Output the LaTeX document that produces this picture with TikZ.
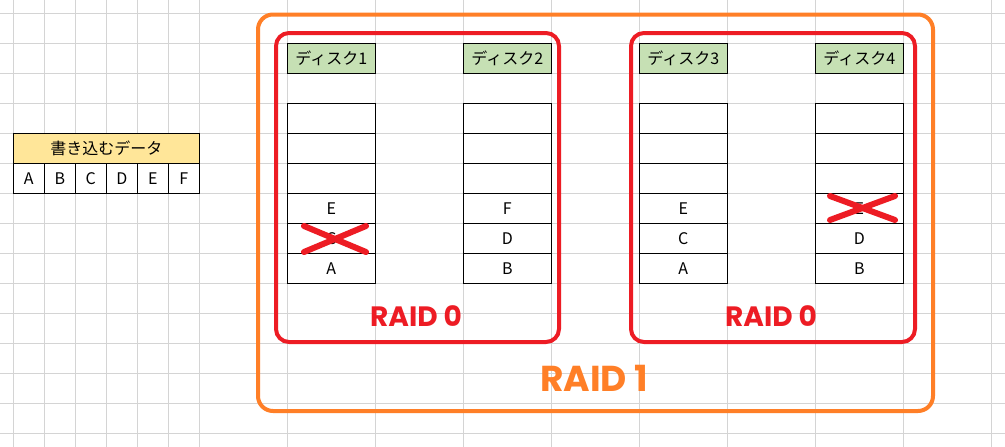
\documentclass[tikz,border=0pt]{standalone}
\usepackage{fontspec}
\setmainfont{Noto Sans CJK JP}
\newfontfamily\raidfont{Poppins}[UprightFont=* Bold]
\begin{document}
\begin{tikzpicture}[x=1pt,y=-1pt,
  txt/.style={font=\fontsize{16}{16}\selectfont},
  cell/.style={txt,draw=black,line width=0.8pt,minimum width=88pt,minimum height=30pt,inner sep=0pt},
  small/.style={txt,draw=black,line width=0.8pt,minimum width=31pt,minimum height=30pt,inner sep=0pt},
  hdr/.style={cell,fill={rgb,255:red,198;green,224;blue,180}},
  cross/.style={draw={rgb,255:red,237;green,28;blue,36},line width=6pt,line cap=round},
  raid0/.style={draw={rgb,255:red,237;green,28;blue,36},line width=4pt,rounded corners=13pt},
  raid1/.style={draw={rgb,255:red,255;green,127;blue,39},line width=4pt,rounded corners=15pt}]
\useasboundingbox (0,0) rectangle (1005,447);
\fill[white] (0,0) rectangle (1005,447);
% grid
\begin{scope}[draw={rgb,255:red,212;green,212;blue,212},line width=0.9pt]
\foreach \x in {13.3,44.3,75.3,106.3,137.3,168.3,199.3,287.3,375.3,463.3,551.3,639.3,727.3,815.3,903.3,991.3}
  \draw (\x,0) -- (\x,447);
\foreach \y in {13.3,43.3,...,440}
  \draw (0,\y) -- (1005,\y);
\end{scope}
% left table
\node[small,minimum width=186pt,fill={rgb,255:red,255;green,230;blue,153}] (dh) at (106.3,148.3) {書き込むデータ};
\foreach \l [count=\i] in {A,B,C,D,E,F}
  \node[small] (d\i) at (13.3+31*\i-15.5,178.3) {\l};
% disks
\foreach \n/\x in {1/331.3,2/507.3,3/683.3,4/859.3}{
  \node[hdr] (h\n) at (\x,58.3) {ディスク\n};
  \foreach \r in {1,...,6}
    \node[cell] (c\n\r) at (\x,88.3+30*\r) {};
}
\begin{scope}[every node/.style={txt}]
\node at (c14) {E}; \node at (c15) {C}; \node at (c16) {A};
\node at (c24) {F}; \node at (c25) {D}; \node at (c26) {B};
\node at (c34) {E}; \node at (c35) {C}; \node at (c36) {A};
\node at (c44) {E}; \node at (c45) {D}; \node at (c46) {B};
\end{scope}
% crosses
\coordinate (x1a) at (304,226); \coordinate (x1b) at (366,252);
\coordinate (x1c) at (304,252); \coordinate (x1d) at (366,226);
\draw[cross] (x1a) -- (x1b); \draw[cross] (x1c) -- (x1d);
\coordinate (x4a) at (830,196); \coordinate (x4b) at (895,220);
\coordinate (x4c) at (830,220); \coordinate (x4d) at (895,196);
\draw[cross] (x4a) -- (x4b); \draw[cross] (x4c) -- (x4d);
% frames
\draw[raid1] (258,14.5) rectangle (933,411);
\draw[raid0] (276,33) rectangle (559,342);
\draw[raid0] (631,33) rectangle (915,342);
\node[font=\raidfont\fontsize{28}{28}\selectfont,text={rgb,255:red,237;green,28;blue,36}] (r0a) at (416,316) {RAID 0};
\node[font=\raidfont\fontsize{28}{28}\selectfont,text={rgb,255:red,237;green,28;blue,36}] (r0b) at (771,316) {RAID 0};
\node[font=\raidfont\fontsize{36}{36}\selectfont,text={rgb,255:red,255;green,127;blue,39}] (r1) at (594,378) {RAID 1};
\end{tikzpicture}
\end{document}
